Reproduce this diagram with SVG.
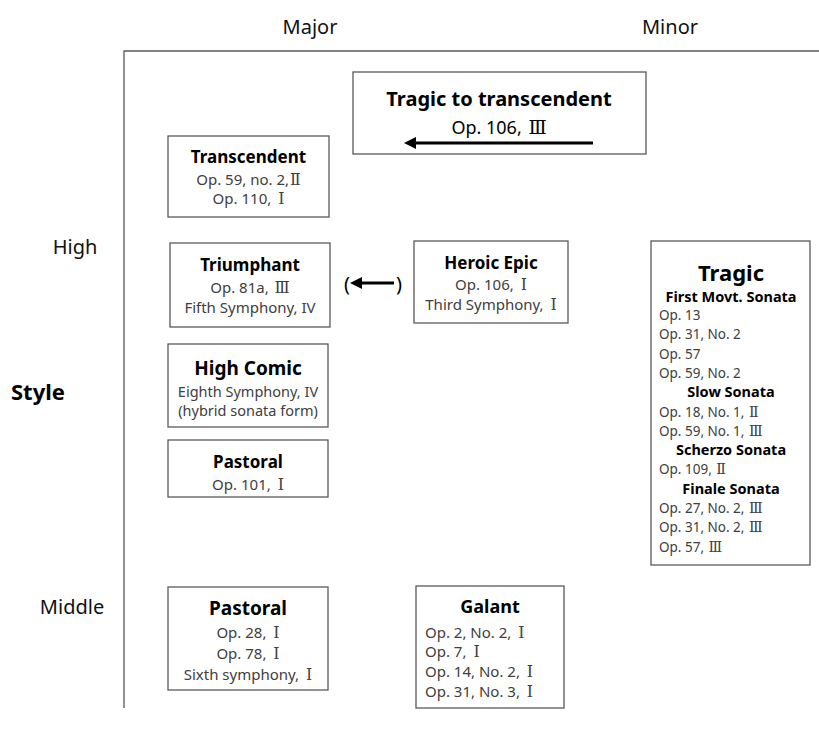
<svg xmlns="http://www.w3.org/2000/svg" width="819" height="734" viewBox="0 0 819 734">
<style>
text{font-family:"Noto Sans","Noto Sans CJK KR",sans-serif;}
.r{font-family:"DejaVu Serif","Noto Sans CJK KR",serif;font-size:1.05em;}
.ax{fill:#111;font-size:20px;}
.t{fill:#000;font-weight:bold;text-anchor:middle;}
.b{fill:#404040;font-size:15px;text-anchor:middle;}
.l{fill:#404040;font-size:13.5px;}
.g{fill:#404040;font-size:15px;}
.h{fill:#000;font-weight:bold;font-size:14.5px;text-anchor:middle;}
.box{fill:#fff;stroke:#595959;stroke-width:1.3;}
.axis{stroke:#595959;stroke-width:1.3;fill:none;}
.arr{stroke:#000;stroke-width:3;fill:none;}
</style>
<defs>
<marker id="ah" markerWidth="4" markerHeight="4" refX="1.5" refY="1.5" orient="auto" markerUnits="strokeWidth" viewBox="0 0 3 3">
<path d="M3,1.5 L0,0 L0,3 Z" fill="#000"/>
</marker>
</defs>
<rect width="819" height="734" fill="#fff"/>
<g id="axes">
<path class="axis" d="M124,708 V51 H819"/>
<text class="ax" x="310" y="34" text-anchor="middle">Major</text>
<text class="ax" x="670" y="34" text-anchor="middle">Minor</text>
<text class="ax" x="75" y="254" text-anchor="middle">High</text>
<text x="11" y="400" style="font-size:22px;font-weight:bold;fill:#000">Style</text>
<text class="ax" x="72" y="614" text-anchor="middle">Middle</text>
</g>
<g id="tragic-to-transcendent">
<rect class="box" x="353" y="72" width="293" height="82"/>
<text class="t" x="499" y="106" font-size="20">Tragic to transcendent</text>
<text x="499" y="134" text-anchor="middle" style="font-size:18px;fill:#000">Op. 106, <tspan class="r" dx="2">Ⅲ</tspan></text>
</g>
<g id="transcendent">
<rect class="box" x="168" y="136" width="161" height="81"/>
<text class="t" x="248.5" y="163" font-size="17">Transcendent</text>
<text class="b" x="248.5" y="185">Op. 59, no. 2,<tspan class="r" dx="1">Ⅱ</tspan></text>
<text class="b" x="248.5" y="204">Op. 110, <tspan class="r" dx="3">Ⅰ</tspan></text>
</g>
<g id="triumphant">
<rect class="box" x="170" y="243" width="160" height="84"/>
<text class="t" x="250" y="271" font-size="17">Triumphant</text>
<text class="b" x="250" y="293">Op. 81a, <tspan class="r" dx="2">Ⅲ</tspan></text>
<text class="b" x="250" y="313">Fifth Symphony, IV</text>
</g>
<g id="heroic-epic">
<rect class="box" x="414" y="241" width="154" height="82"/>
<text class="t" x="491" y="269" font-size="17">Heroic Epic</text>
<text class="b" x="491" y="290">Op. 106, <tspan class="r" dx="3">Ⅰ</tspan></text>
<text class="b" x="491" y="310">Third Symphony, <tspan class="r" dx="3">Ⅰ</tspan></text>
</g>
<g id="tragic">
<rect class="box" x="651" y="241" width="159" height="324"/>
<text class="t" x="731" y="281" font-size="22">Tragic</text>
<text class="h" x="731" y="302">First Movt. Sonata</text>
<text class="l" x="659" y="320">Op. 13</text>
<text class="l" x="659" y="339.3">Op. 31, No. 2</text>
<text class="l" x="659" y="358.6">Op. 57</text>
<text class="l" x="659" y="377.9">Op. 59, No. 2</text>
<text class="h" x="731" y="397.2">Slow Sonata</text>
<text class="l" x="659" y="416.5">Op. 18, No. 1, <tspan class="r" dx="1">Ⅱ</tspan></text>
<text class="l" x="659" y="435.8">Op. 59, No. 1, <tspan class="r" dx="1">Ⅲ</tspan></text>
<text class="h" x="731" y="455.1">Scherzo Sonata</text>
<text class="l" x="659" y="474.4">Op. 109, <tspan class="r" dx="1">Ⅱ</tspan></text>
<text class="h" x="731" y="493.7">Finale Sonata</text>
<text class="l" x="659" y="513">Op. 27, No. 2, <tspan class="r" dx="1">Ⅲ</tspan></text>
<text class="l" x="659" y="532.3">Op. 31, No. 2, <tspan class="r" dx="1">Ⅲ</tspan></text>
<text class="l" x="659" y="551.6">Op. 57, <tspan class="r" dx="1">Ⅲ</tspan></text>
</g>
<g id="high-comic">
<rect class="box" x="168" y="344" width="160" height="83"/>
<text class="t" x="248" y="375" font-size="19">High Comic</text>
<text class="b" x="248" y="397" style="font-size:14.5px">Eighth Symphony, IV</text>
<text class="b" x="248" y="416" style="font-size:14.5px">(hybrid sonata form)</text>
</g>
<g id="pastoral-high">
<rect class="box" x="168" y="440" width="160" height="57"/>
<text class="t" x="248" y="468" font-size="17">Pastoral</text>
<text class="b" x="248" y="490">Op. 101, <tspan class="r" dx="3">Ⅰ</tspan></text>
</g>
<g id="pastoral-middle">
<rect class="box" x="168" y="587" width="160" height="103"/>
<text class="t" x="248" y="615" font-size="19">Pastoral</text>
<text class="b" x="248" y="638">Op. 28, <tspan class="r" dx="3">Ⅰ</tspan></text>
<text class="b" x="248" y="659">Op. 78, <tspan class="r" dx="3">Ⅰ</tspan></text>
<text class="b" x="248" y="680">Sixth symphony, <tspan class="r" dx="3">Ⅰ</tspan></text>
</g>
<g id="galant">
<rect class="box" x="416" y="586" width="148" height="122"/>
<text class="t" x="490" y="613" font-size="18">Galant</text>
<text class="g" x="425" y="638">Op. 2, No. 2, <tspan class="r" dx="3">Ⅰ</tspan></text>
<text class="g" x="425" y="657">Op. 7, <tspan class="r" dx="3">Ⅰ</tspan></text>
<text class="g" x="425" y="677">Op. 14, No. 2, <tspan class="r" dx="3">Ⅰ</tspan></text>
<text class="g" x="425" y="697">Op. 31, No. 3, <tspan class="r" dx="3">Ⅰ</tspan></text>
</g>
<g id="connectors">
<line class="arr" x1="593" y1="143" x2="410" y2="143" marker-end="url(#ah)"/>
<text x="347" y="291" text-anchor="middle" style="font-size:20px;fill:#000">(</text>
<line class="arr" x1="394" y1="283" x2="356" y2="283" marker-end="url(#ah)"/>
<text x="399" y="291" text-anchor="middle" style="font-size:20px;fill:#000">)</text>
</g>
</svg>
